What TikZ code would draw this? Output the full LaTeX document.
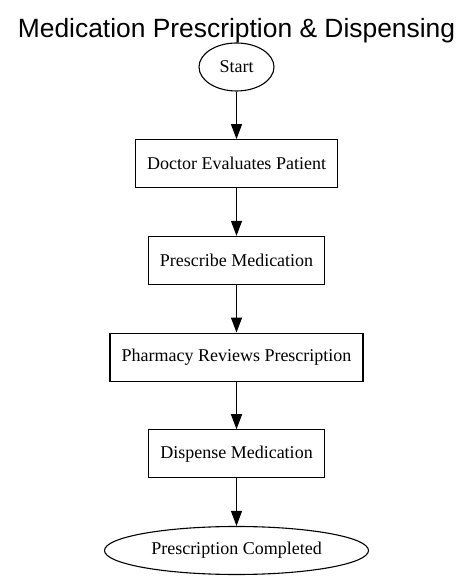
\documentclass[tikz,border=0pt]{standalone}
\usepackage{fontspec}
\setmainfont{Liberation Serif}
\setsansfont{Liberation Sans}
\usetikzlibrary{shapes.geometric, arrows.meta, positioning}

\tikzset{
  stepbox/.style={draw, rectangle, line width=1.1pt, minimum height=48pt, inner xsep=11.5pt, font=\fontsize{18}{20}\selectfont},
  terminal/.style={draw, ellipse, line width=1.1pt, minimum height=48pt, inner sep=0pt, font=\fontsize{18}{20}\selectfont},
  flow/.style={-{Triangle[length=15pt,width=11pt]}, line width=1.1pt}
}

\begin{document}
\begin{tikzpicture}[node distance=47.6pt]
\useasboundingbox (0,0) rectangle (473pt,577pt);

\node[anchor=base, font=\sffamily\fontsize{26.4}{30}\selectfont] (title) at (236.5pt,539pt) {Medication Prescription \& Dispensing};

\node[terminal, minimum width=75pt] (start) at (236.5pt,510pt) {Start};
\node[stepbox, below=of start] (evaluate) {Doctor Evaluates Patient};
\node[stepbox, below=of evaluate] (prescribe) {Prescribe Medication};
\node[stepbox, below=of prescribe] (review) {Pharmacy Reviews Prescription};
\node[stepbox, below=of review] (dispense) {Dispense Medication};
\node[terminal, minimum width=264pt, below=of dispense] (done) {Prescription Completed};

\draw[flow] (start) -- (evaluate);
\draw[flow] (evaluate) -- (prescribe);
\draw[flow] (prescribe) -- (review);
\draw[flow] (review) -- (dispense);
\draw[flow] (dispense) -- (done);

\end{tikzpicture}
\end{document}
